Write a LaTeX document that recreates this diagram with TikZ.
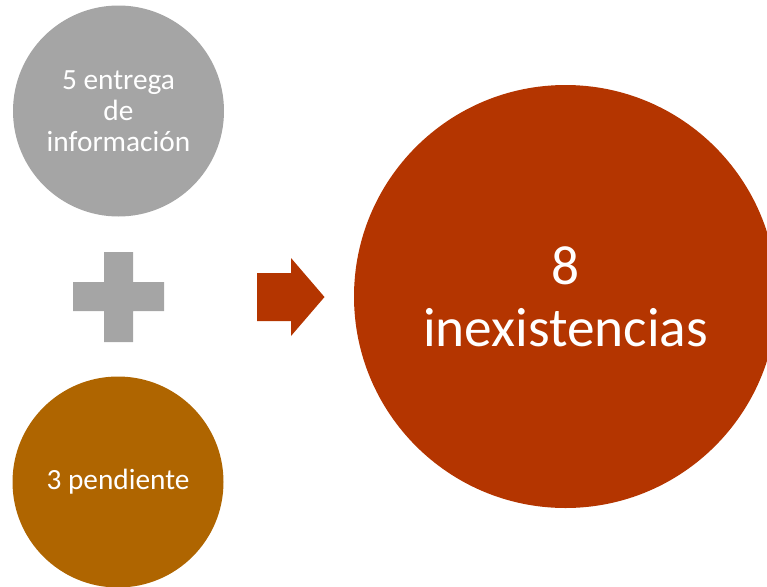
\documentclass[tikz,border=0pt]{standalone}
\usepackage{fontspec}
\setmainfont{Carlito}
\usepackage{xcolor}
\usepackage{tikz}

\definecolor{grisc}{RGB}{165,165,165}
\definecolor{ocre}{RGB}{175,101,0}
\definecolor{rojizo}{RGB}{180,53,0}

\tikzset{
	bola/.style={circle, draw=none, inner sep=0pt, text=white, align=center},
	chica/.style={bola, minimum size=158.25pt, font=\fontsize{22}{23.3}\selectfont},
	grande/.style={bola, minimum size=317.25pt, font=\fontsize{41.5}{46.5}\selectfont}
}

\begin{document}
\begin{tikzpicture}[x=0.75pt,y=0.75pt,yscale=-1,xscale=1]
	\useasboundingbox (0,0) rectangle (767,586);
	\clip (0,0) rectangle (767,586);
	
	%Shape: Circle
	\node [chica, fill=grisc] (entrega) at (118.5,111) {5 entrega\\de\\información};
	%Shape: Circle
	\node [chica, fill=ocre] (pendiente) at (118,482) {3 pendiente};
	%Shape: Circle
	\node [grande, fill=rojizo] (inexist) at (565.5,296.5) {8\\inexistencias};
	
	%Shape: Plus
	\fill [grisc] (104,252) -- (133,252) -- (133,282) -- (164,282) -- (164,311) -- (133,311) -- (133,342) -- (104,342) -- (104,311) -- (73,311) -- (73,282) -- (104,282) -- cycle ;
	%Shape: Right Arrow
	\fill [rojizo] (257,273) -- (291,273) -- (291,258) -- (324.5,297) -- (291,336) -- (291,321) -- (257,321) -- cycle ;
	
\end{tikzpicture}
\end{document}
